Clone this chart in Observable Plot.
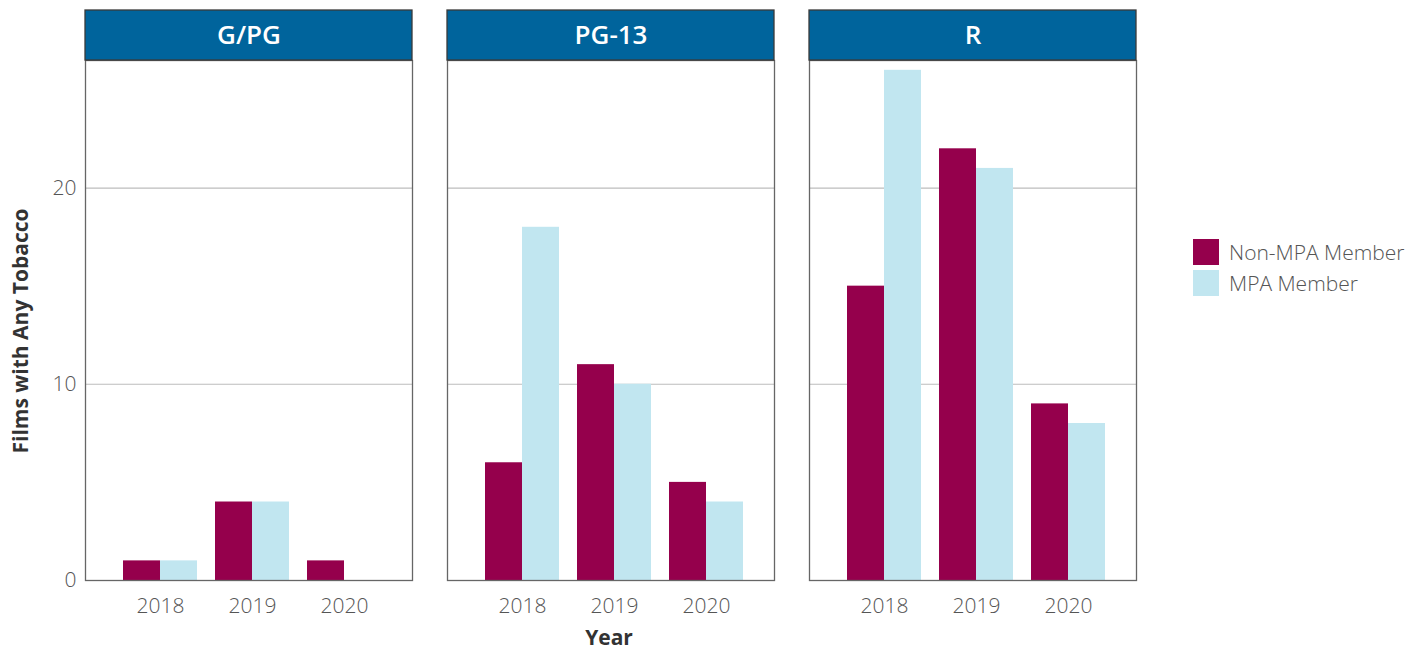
<!DOCTYPE html>
<html>
<head>
<meta charset="utf-8">
<script src="https://cdn.jsdelivr.net/npm/d3@7"></script>
<script src="https://cdn.jsdelivr.net/npm/@observablehq/plot@0.6"></script>
<style>
  html, body { margin: 0; padding: 0; background: #fff; }
  #wrap { position: relative; width: 1424px; height: 649px; font-family: "Open Sans", sans-serif; overflow: hidden; }
  #chart { position: absolute; left: 0; top: 0; }
  .ttl { position: absolute; font-weight: 700; font-size: 21px; line-height: 1; color: #333; white-space: nowrap; }
  #ytitle { left: 20px; top: 331px; transform: translate(-50%, -50%) rotate(-90deg); }
  #xtitle { left: 609px; top: 637px; transform: translate(-50%, -50%); }
  #legend { position: absolute; left: 1193px; top: 236px; }
  .item { display: flex; align-items: center; height: 31px; }
  .sw { width: 26px; height: 26px; margin-right: 10px; }
  .lab { font-size: 21px; font-weight: 300; color: #555; }
</style>
</head>
<body>
<div id="wrap">
  <div id="chart"></div>
  <div class="ttl" id="ytitle">Films with Any Tobacco</div>
  <div class="ttl" id="xtitle">Year</div>
  <div id="legend"></div>
</div>
<script>
// ---- Data ----
const ratings = ["G/PG", "PG-13", "R"];
const years = ["2018", "2019", "2020"];
const members = ["Non-MPA Member", "MPA Member"];
const colors = ["#95004c", "#c1e6f0"];
const nonMPA = [[1, 4, 1], [6, 11, 5], [15, 22, 9]];   // by rating, by year
const mpa    = [[1, 4, 0], [18, 10, 4], [26, 21, 8]];
const yTicks = [0, 10, 20];
const yMax = 26.5;

const rows = [];
ratings.forEach((r, i) => years.forEach((y, j) => {
  rows.push({rating: r, year: y, member: members[0], value: nonMPA[i][j]});
  rows.push({rating: r, year: y, member: members[1], value: mpa[i][j]});
}));

function build(bw) {
  return Plot.plot({
    width: 1150,
    height: 649,
    marginLeft: 84,
    marginRight: 14,
    marginTop: 60,
    marginBottom: 69,
    style: {fontFamily: "Open Sans, sans-serif", fontSize: "21px", background: "white"},
    fx: {domain: ratings, paddingInner: 0.098, paddingOuter: 0, axis: null},
    x: {domain: years, paddingInner: 0.196, paddingOuter: 0.375, align: 0.557},
    y: {domain: [0, yMax]},
    color: {domain: members, range: colors},
    marks: [
      Plot.gridY(yTicks, {stroke: "#bdbdbd", strokeOpacity: 1, strokeWidth: 1.2}),
      Plot.barY(rows.filter(d => d.member === members[0]), {fx: "rating", x: "year", y: "value", fill: "member", insetLeft: 0, insetRight: bw / 2}),
      Plot.barY(rows.filter(d => d.member === members[1]), {fx: "rating", x: "year", y: "value", fill: "member", insetLeft: bw / 2, insetRight: 0}),
      Plot.axisY({ticks: yTicks, tickSize: 0, tickPadding: 9, label: null, fill: "#555", fontWeight: 300, fontSize: 21}),
      Plot.axisX({tickSize: 0, tickPadding: 18, label: null, fill: "#555", fontWeight: 300, fontSize: 21}),
      Plot.frame({stroke: "#666", strokeWidth: 1.3}),
      Plot.rect(ratings, {fx: d => d, y1: yMax, y2: yMax, insetTop: -50, fill: "#00649c", stroke: "#3a3a3a", strokeWidth: 1.3}),
      Plot.text(ratings, {fx: d => d, text: d => d, frameAnchor: "top", dy: -25, lineAnchor: "middle", fill: "white", fontSize: 26, fontWeight: 600})
    ]
  });
}

let chart = build(0);
const bw = chart.scale("x").bandwidth;
chart = build(bw);
document.getElementById("chart").appendChild(chart);

const legend = document.getElementById("legend");
members.forEach((m, i) => {
  const it = document.createElement("div");
  it.className = "item";
  it.innerHTML = `<div class="sw" style="background:${colors[i]}"></div><span class="lab">${m}</span>`;
  legend.appendChild(it);
});
</script>
</body>
</html>
